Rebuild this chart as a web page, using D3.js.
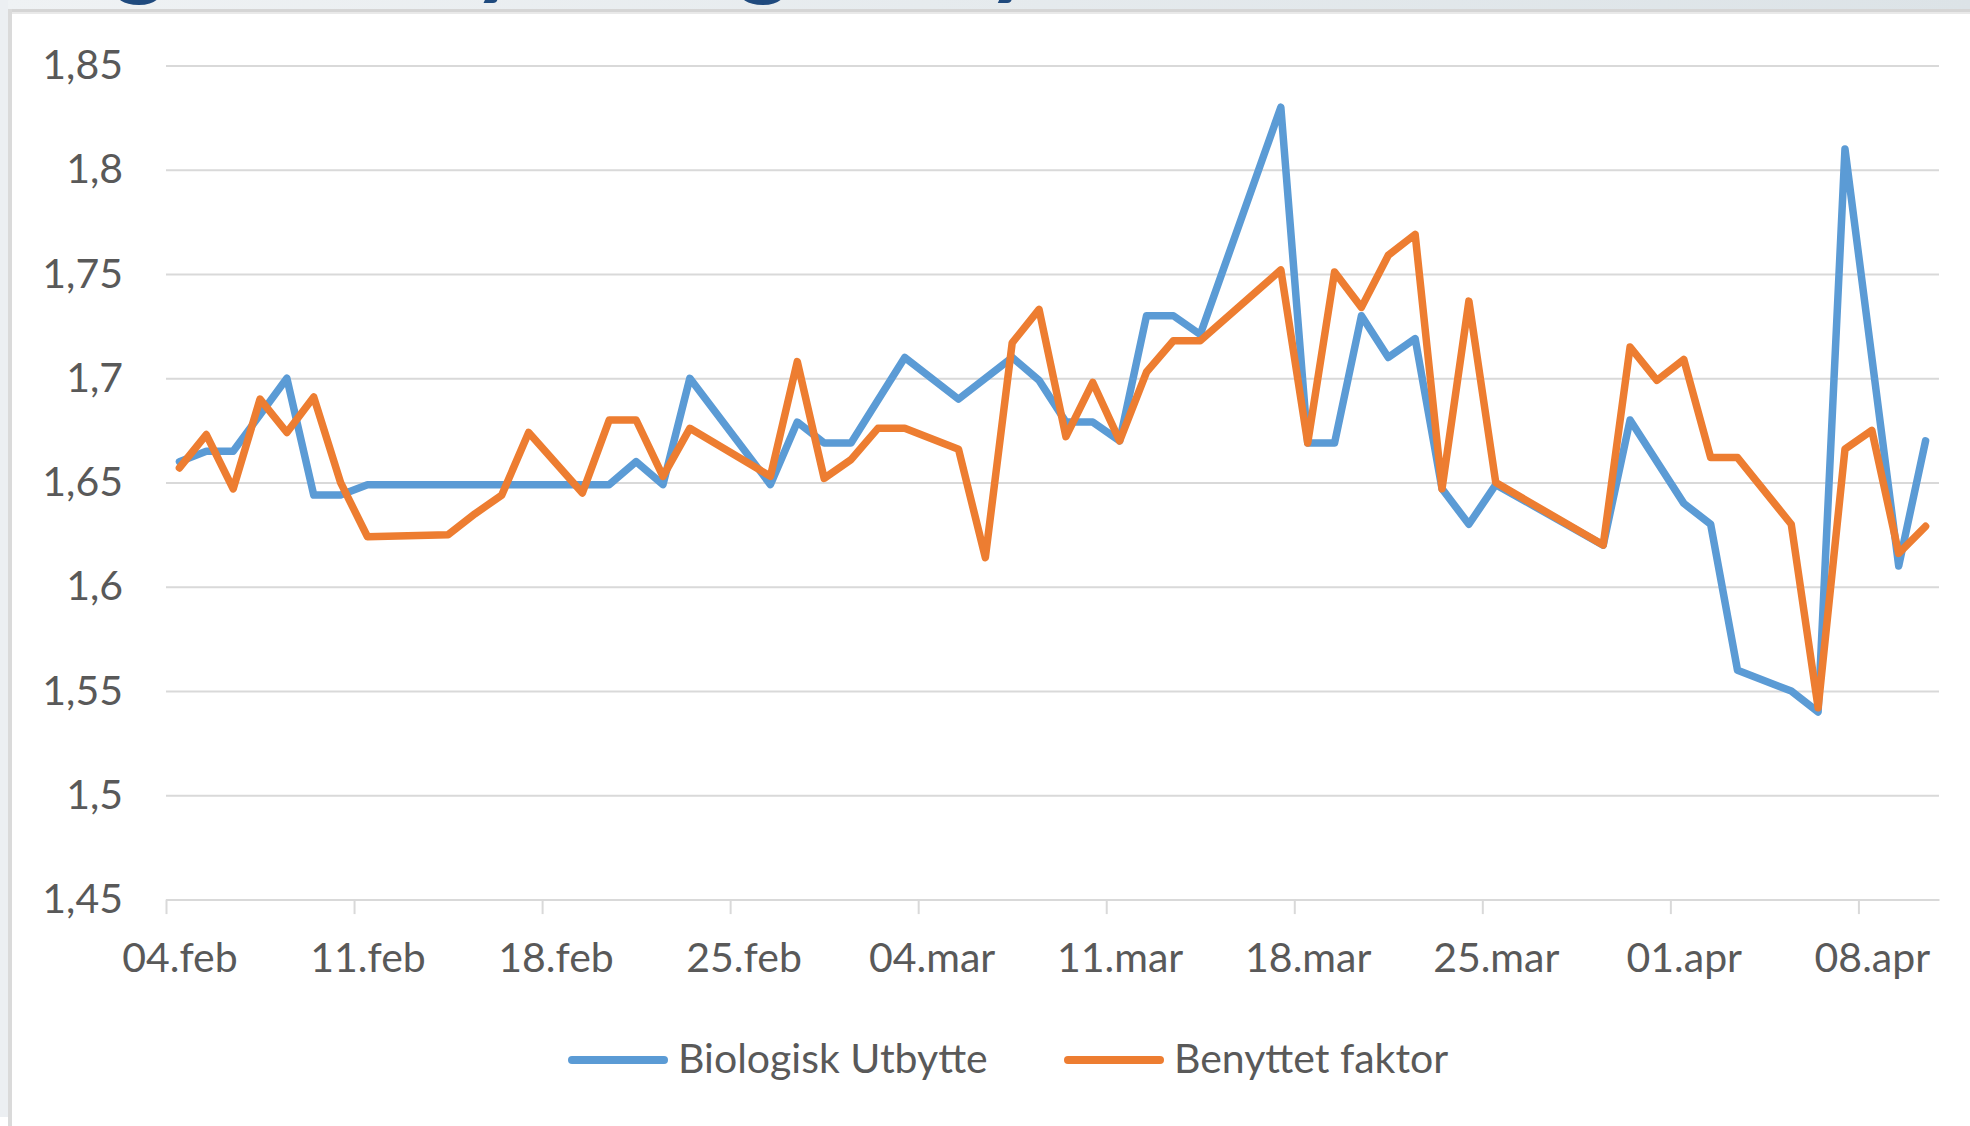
<!DOCTYPE html>
<html>
<head>
<meta charset="utf-8">
<script src="https://cdn.jsdelivr.net/npm/d3@7"></script>
<style>
  html, body { margin: 0; padding: 0; background: #fff; }
  svg { display: block; font-family: Lato, "Liberation Sans", sans-serif; }
</style>
</head>
<body>
<svg id="chart" width="1970" height="1126"></svg>
<script>
// dates with a reading; null = no point that day (Excel joins across it)
var dates = [
  "2019-02-04","2019-02-05","2019-02-06","2019-02-07","2019-02-08","2019-02-09","2019-02-10",
  "2019-02-11","2019-02-14","2019-02-15","2019-02-16","2019-02-17","2019-02-19","2019-02-20",
  "2019-02-21","2019-02-22","2019-02-23","2019-02-26","2019-02-27","2019-02-28","2019-03-01",
  "2019-03-02","2019-03-03","2019-03-04","2019-03-05","2019-03-06","2019-03-07","2019-03-08",
  "2019-03-09","2019-03-10","2019-03-11","2019-03-12","2019-03-13","2019-03-14","2019-03-17",
  "2019-03-18","2019-03-19","2019-03-20","2019-03-21","2019-03-22","2019-03-23","2019-03-24",
  "2019-03-25","2019-03-29","2019-03-30","2019-03-31","2019-04-01","2019-04-02","2019-04-03",
  "2019-04-05","2019-04-06","2019-04-07","2019-04-08","2019-04-09","2019-04-10"
];

var biologisk = [
  1.660, 1.665, 1.665, null, 1.700, 1.644, 1.644,
  1.649, null, null, null, null, null, 1.649,
  1.660, 1.649, 1.700, 1.649, 1.679, 1.669, 1.669,
  null, 1.710, null, 1.690, null, 1.710, 1.699,
  1.679, 1.679, 1.670, 1.730, 1.730, 1.721, 1.830,
  1.669, 1.669, 1.730, 1.710, 1.719, 1.647, 1.630,
  1.649, 1.620, 1.680, null, 1.640, 1.630, 1.560,
  1.550, 1.540, 1.810, null, 1.610, 1.670
];

var benyttet = [
  1.657, 1.673, 1.647, 1.690, 1.674, 1.691, 1.650,
  1.624, 1.625, 1.635, 1.644, 1.674, 1.645, 1.680,
  1.680, 1.653, 1.676, 1.653, 1.708, 1.652, 1.661,
  1.676, 1.676, 1.671, 1.666, 1.614, 1.717, 1.733,
  1.672, 1.698, 1.670, 1.703, 1.718, 1.718, 1.752,
  1.669, 1.751, 1.734, 1.759, 1.769, 1.647, 1.737,
  1.650, 1.620, 1.715, 1.699, 1.709, 1.662, 1.662,
  1.630, 1.542, 1.666, 1.675, 1.616, 1.629
];

var seriesNames = ["Biologisk Utbytte", "Benyttet faktor"];
var seriesColors = ["#5B9BD5", "#ED7D31"];

var yTicks = [1.45, 1.5, 1.55, 1.6, 1.65, 1.7, 1.75, 1.8, 1.85];
var xTickDates = ["2019-02-04","2019-02-11","2019-02-18","2019-02-25","2019-03-04",
                  "2019-03-11","2019-03-18","2019-03-25","2019-04-01","2019-04-08"];
var xTickLabels = ["04.feb","11.feb","18.feb","25.feb","04.mar",
                   "11.mar","18.mar","25.mar","01.apr","08.apr"];

var title = "Biologisk utbytte og benyttet faktor";

var parse = d3.timeParse("%Y-%m-%d");
var svg = d3.select("#chart");
var W = 1970, H = 1126;
var plotLeft = 166, plotRight = 1939, plotTop = 65.5, plotBottom = 899.6;
var textColor = "#595959", gridColor = "#D9D9D9";
var fontSize = 41;

// slide background around the chart box
var defs = svg.append("defs");
var grad = defs.append("linearGradient").attr("id", "band");
grad.append("stop").attr("offset", "0%").attr("stop-color", "#EFF2F4");
grad.append("stop").attr("offset", "100%").attr("stop-color", "#DCE3E7");
svg.append("rect").attr("width", W).attr("height", 10).attr("fill", "url(#band)");
svg.append("rect").attr("y", 0).attr("width", 8).attr("height", 1117).attr("fill", "#ECEFF2");

// slide title sits above the crop, only the descenders peek in.
// size it so the g of "Biologisk" and the g of "og" land where they do in the picture
var titleText = svg.append("text")
  .attr("font-size", 86)
  .attr("font-weight", 700)
  .attr("fill", "#1F4A7E")
  .text(title);
var tn = titleText.node();
function charMid(i) { return tn.getStartPositionOfChar(i).x + tn.getExtentOfChar(i).width / 2; }
var gA = title.indexOf("g"), gB = title.indexOf(" og ") + 2;
var titleSize = 86 * (764 - 140) / (charMid(gB) - charMid(gA));
titleText.attr("font-size", titleSize).attr("y", -0.2 * titleSize + 7);
titleText.attr("x", 140 - charMid(gA));

svg.append("rect").attr("x", 8).attr("y", 9).attr("width", W - 8).attr("height", 3).attr("fill", "#D5D5D5");
svg.append("rect").attr("x", 8).attr("y", 12).attr("width", W - 8).attr("height", 2).attr("fill", "#E9E9E9");
svg.append("rect").attr("x", 8).attr("y", 9).attr("width", 4).attr("height", H - 9).attr("fill", "#DADADA");

// scales
var first = parse(dates[0]), last = parse(dates[dates.length - 1]);
var x = d3.scaleTime()
  .domain([d3.timeHour.offset(first, -12), d3.timeHour.offset(last, 12)])
  .range([plotLeft, plotRight]);
var y = d3.scaleLinear().domain([1.45, 1.85]).range([plotBottom, plotTop]);

// y gridlines + labels
var yAxis = svg.append("g")
  .attr("transform", "translate(" + plotLeft + ",0)")
  .call(d3.axisLeft(y)
    .tickValues(yTicks)
    .tickSize(-(plotRight - plotLeft))
    .tickPadding(43)
    .tickFormat(function(d) { return String(d).replace(".", ","); }));
yAxis.select(".domain").remove();
yAxis.selectAll(".tick line").attr("stroke", gridColor).attr("stroke-width", 2);
yAxis.selectAll(".tick text")
  .attr("fill", textColor)
  .attr("font-size", fontSize)
  .attr("font-family", "Lato, 'Liberation Sans', sans-serif");

// x tick marks sit on day boundaries, labels on the day
var tickDates = xTickDates.map(parse);
var xTicks = svg.append("g")
  .attr("transform", "translate(0," + plotBottom + ")")
  .call(d3.axisBottom(x)
    .tickValues(tickDates.map(function(d) { return d3.timeHour.offset(d, -12); }))
    .tickSize(14.5)
    .tickSizeOuter(0)
    .tickFormat(""));
xTicks.select(".domain").attr("stroke", gridColor).attr("stroke-width", 2);
xTicks.selectAll(".tick line").attr("stroke", gridColor).attr("stroke-width", 2);

var xLabels = svg.append("g")
  .attr("transform", "translate(0," + plotBottom + ")")
  .call(d3.axisBottom(x)
    .tickValues(tickDates)
    .tickSize(0)
    .tickFormat(function(d, i) { return xTickLabels[i]; }));
xLabels.select(".domain").remove();
xLabels.selectAll(".tick text")
  .attr("y", 72)
  .attr("dy", 0)
  .attr("fill", textColor)
  .attr("font-size", fontSize)
  .attr("font-family", "Lato, 'Liberation Sans', sans-serif");

// lines
var line = d3.line()
  .x(function(d) { return x(d.date); })
  .y(function(d) { return y(d.v); });

[biologisk, benyttet].forEach(function(values, k) {
  var pts = dates.map(function(d, i) { return { date: parse(d), v: values[i] }; })
    .filter(function(p) { return p.v != null; });
  svg.append("path")
    .datum(pts)
    .attr("d", line)
    .attr("fill", "none")
    .attr("stroke", seriesColors[k])
    .attr("stroke-width", 7.5)
    .attr("stroke-linejoin", "round")
    .attr("stroke-linecap", "round");
});

// legend
var legendX = [568, 1064];
var legend = svg.append("g");
seriesNames.forEach(function(name, k) {
  legend.append("line")
    .attr("x1", legendX[k] + 4).attr("x2", legendX[k] + 96)
    .attr("y1", 1060).attr("y2", 1060)
    .attr("stroke", seriesColors[k])
    .attr("stroke-width", 8)
    .attr("stroke-linecap", "round");
  legend.append("text")
    .attr("x", legendX[k] + 110)
    .attr("y", 1073)
    .attr("fill", textColor)
    .attr("font-size", fontSize)
    .text(name);
});
</script>
</body>
</html>
